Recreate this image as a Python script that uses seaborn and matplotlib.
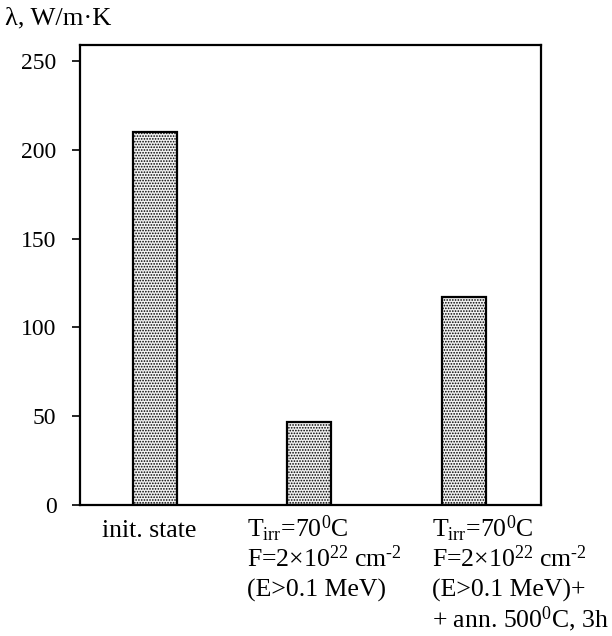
import matplotlib
matplotlib.use("Agg")
import matplotlib.pyplot as plt
import matplotlib.transforms as mtransforms
import seaborn as sns
import pandas as pd

# Thermal conductivity of the material in three states
categories = ["init. state", "irradiated", "irradiated + annealed"]
conductivity = [210, 47, 117]
tick_values = [0, 50, 100, 150, 200, 250]
label_lines = [
    ["init. state"],
    ["T$_{\\rm irr}$=70$^{\\rm 0}$C",
     "F=2\u00d710$^{\\rm 22}$ cm$^{\\text{-2}}$",
     "(E>0.1 MeV)"],
    ["T$_{\\rm irr}$=70$^{\\rm 0}$C",
     "F=2\u00d710$^{\\rm 22}$ cm$^{\\text{-2}}$",
     "(E>0.1 MeV)+",
     "+ ann. 500$^{\\rm 0}$C, 3h"],
]

sns.set_theme(style="ticks")
plt.rcParams["font.family"] = ["Liberation Serif", "DejaVu Serif"]
plt.rcParams["mathtext.fontset"] = "custom"
plt.rcParams["mathtext.rm"] = "Liberation Serif"
plt.rcParams["mathtext.it"] = "Liberation Serif:italic"
plt.rcParams["hatch.linewidth"] = 0.8
plt.rcParams["hatch.color"] = "#555555"

df = pd.DataFrame({"state": categories, "lam": conductivity})

fig = plt.figure(figsize=(6.12, 6.36), dpi=100)
ax = fig.add_axes([0.1307, 0.206, 0.7533, 0.723])

sns.barplot(data=df, x="state", y="lam", ax=ax, color="#f2f2f2",
            saturation=1, width=0.285, edgecolor="black", linewidth=1.6,
            hatch="......")

ax.set_xlim(-0.485, 2.5)
ax.set_ylim(0, 259)
ax.set_yticks(tick_values)
ax.set_yticklabels([str(v) for v in tick_values], fontsize=17)
ax.tick_params(axis="y", direction="out", length=6, width=1.2, pad=11,
               colors="black")
ax.tick_params(axis="x", length=0)
ax.set_xticks(range(len(categories)))
ax.set_xticklabels([])
ax.set_xlabel("")
ax.set_ylabel("")
for s in ax.spines.values():
    s.set_visible(True)
    s.set_linewidth(1.6)
    s.set_color("black")

# Category captions below the axis, one line at a time
trans = mtransforms.blended_transform_factory(ax.transData, ax.transAxes)
offsets = [-0.035, -0.405, -0.207]
aligns = ["center", "left", "left"]
for i, lines in enumerate(label_lines):
    for j, line in enumerate(lines):
        ax.annotate(line, xy=(i + offsets[i], 0), xycoords=trans,
                    xytext=(0, -23 - 21.6 * j), textcoords="offset points",
                    ha=aligns[i], va="baseline", fontsize=18.5,
                    color="black", annotation_clip=False)

fig.text(0.008, 0.962, "\u03bb, W/m\u00b7K", fontsize=19, ha="left",
         va="baseline", color="black")

fig.savefig("out.png", dpi=100)
